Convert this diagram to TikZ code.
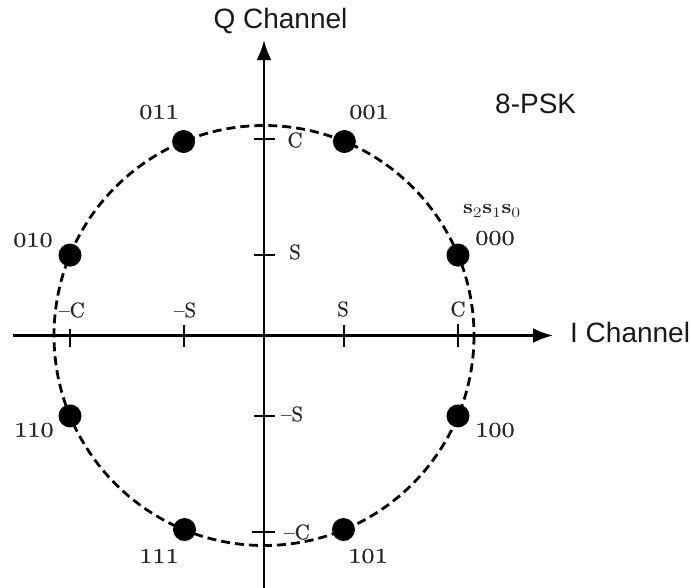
\documentclass[tikz,border=0pt]{standalone}
\usepackage{fontspec}
\usepackage{graphicx}
\newfontfamily\sansf{Liberation Sans}
\newfontfamily\lblf{lmroman10-regular}[Extension=.otf,Ligatures=TeX,FakeBold=0.5]
\usetikzlibrary{arrows.meta,calc}
\newcommand\widelbl[1]{\scalebox{1.25}[1]{#1}}
\begin{document}
\begin{tikzpicture}[x=1pt,y=-1pt,
  axis/.style={line width=2.6pt,-{Latex[length=20pt,width=15pt]}},
  dashcirc/.style={line width=2.8pt,dash pattern=on 9pt off 5pt},
  dot/.style={circle,fill=black,minimum size=23pt,inner sep=0pt},
  tickthick/.style={line width=2.6pt},
  tickthin/.style={line width=1.3pt},
  lbl/.style={inner sep=0pt,text=black!85,font=\lblf\fontsize{21}{24}\selectfont},
  sanslbl/.style={inner sep=0pt,text=black!90,font=\sansf\fontsize{28}{32}\selectfont}]
\useasboundingbox (0,0) rectangle (691,587);
\coordinate (O) at (264,335.5);
% axes
\coordinate (xl) at (13,335.5);
\coordinate (xr) at (553,335.5);
\coordinate (yb) at (264,590);
\coordinate (yt) at (264,40);
\draw[axis] (xl) -- (xr);
\draw[axis] (yb) -- (yt);
% circle
\draw[dashcirc] (O) circle[radius=210];
% tick positions
\coordinate (hmC) at (70,335.5);
\coordinate (hmS) at (184,335.5);
\coordinate (hpS) at (344,335.5);
\coordinate (hpC) at (458,335.5);
\coordinate (vpC) at (264,139);
\coordinate (vpS) at (264,255);
\coordinate (vmS) at (264,416);
\coordinate (vmC) at (264,532);
\draw[tickthin] ($(hmC)+(0,-7)$) -- ($(hmC)+(0,11)$);
\draw[tickthick] ($(hmS)+(0,-11)$) -- ($(hmS)+(0,11)$);
\draw[tickthick] ($(hpS)+(0,-11)$) -- ($(hpS)+(0,11)$);
\draw[tickthick] ($(hpC)+(0,-12)$) -- ($(hpC)+(0,11)$);
\draw[tickthick] ($(vpC)+(-10,0)$) -- ($(vpC)+(11,0)$);
\draw[tickthick] ($(vpS)+(-10,0)$) -- ($(vpS)+(11,0)$);
\draw[tickthick] ($(vmS)+(-10,0)$) -- ($(vmS)+(11,0)$);
\draw[tickthin] ($(vmC)+(-12,0)$) -- ($(vmC)+(11,0)$);
% tick labels
\node[lbl] (lhmC) at (72,310) {–C};
\node[lbl] (lhmS) at (185,310) {–S};
\node[lbl] (lhpS) at (343,309) {S};
\node[lbl] (lhpC) at (458,309) {C};
\node[lbl] (lvpC) at (295,140) {C};
\node[lbl] (lvpS) at (295,252) {S};
\node[lbl] (lvmS) at (292,414) {–S};
\node[lbl] (lvmC) at (297,532) {–C};
% constellation points
\node[dot] (d000) at (458,255.1) {};
\node[dot] (d001) at (344.4,141.5) {};
\node[dot] (d011) at (183.6,141.5) {};
\node[dot] (d010) at (70,255.1) {};
\node[dot] (d110) at (70,415.9) {};
\node[dot] (d111) at (184.5,529.5) {};
\node[dot] (d101) at (343.5,529.5) {};
\node[dot] (d100) at (458,415.9) {};
% bit labels
\node[lbl] (l000) at (495,238) {\widelbl{000}};
\node[lbl] (l001) at (369,112) {\widelbl{001}};
\node[lbl] (l011) at (159,112) {\widelbl{011}};
\node[lbl] (l010) at (33,240) {\widelbl{010}};
\node[lbl] (l110) at (34,430) {\widelbl{110}};
\node[lbl] (l111) at (159,556) {\widelbl{111}};
\node[lbl] (l101) at (368,556) {\widelbl{101}};
\node[lbl] (l100) at (495,430) {\widelbl{100}};
\node[lbl,font=\fontsize{20}{24}\selectfont] (lsss) at (492,211) {\widelbl{$\mathbf{s}_2\mathbf{s}_1\mathbf{s}_0$}};
% titles
\node[sanslbl,anchor=base] (qch) at (280.5,28) {Q Channel};
\node[sanslbl,anchor=base west] (ich) at (570,342) {I Channel};
\node[sanslbl,anchor=base west] (psk) at (495,113) {8-PSK};
\end{tikzpicture}
\end{document}
